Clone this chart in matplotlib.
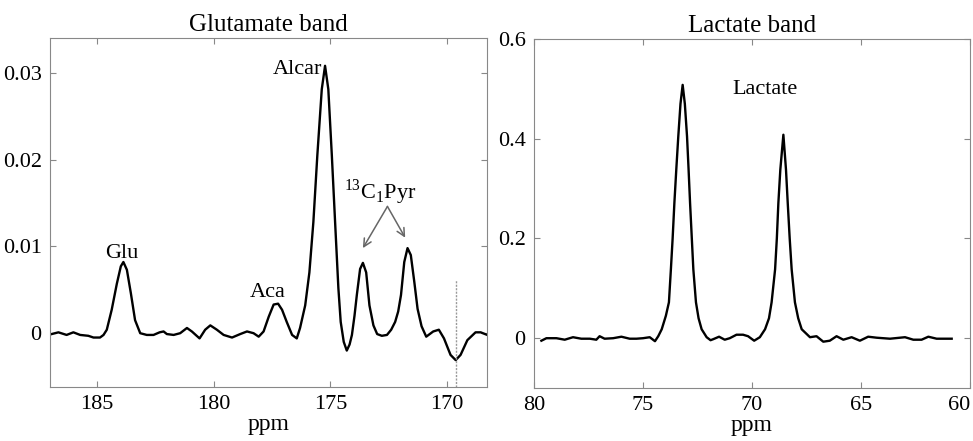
import matplotlib
matplotlib.use("Agg")
import matplotlib.pyplot as plt

plt.rcParams["font.family"] = ["Liberation Serif", "DejaVu Serif"]
plt.rcParams["mathtext.fontset"] = "custom"
plt.rcParams["mathtext.rm"] = "Liberation Serif"

# glutamate band spectrum (ppm, signal)
glu_ppm = [186.93, 186.64, 186.29, 186.0, 185.71, 185.36, 185.14, 184.86, 184.71, 184.57,
           184.36, 184.14, 183.97, 183.86, 183.71, 183.54, 183.36, 183.14, 182.86, 182.57,
           182.31, 182.14, 182.0, 181.71, 181.43, 181.14, 180.93, 180.6, 180.36, 180.14,
           179.86, 179.57, 179.21, 178.86, 178.57, 178.29, 178.07, 177.86, 177.64, 177.43,
           177.24, 177.07, 176.87, 176.64, 176.44, 176.30, 176.08, 175.9, 175.73, 175.56,
           175.37, 175.23, 175.09, 174.94, 174.80, 174.66, 174.56, 174.43, 174.30, 174.18,
           174.08, 173.97, 173.87, 173.73, 173.61, 173.47, 173.33, 173.16, 173.0, 172.8,
           172.58, 172.4, 172.23, 172.1, 171.98, 171.84, 171.70, 171.56, 171.41, 171.27,
           171.1, 170.9, 170.6, 170.36, 170.14, 169.86, 169.64, 169.43, 169.14, 168.79,
           168.57, 168.29]
glu_val = [-0.0001, 0.0001, -0.0002, 0.0001, -0.0002, -0.0003, -0.0005, -0.0005, -0.0002, 0.0004,
           0.0027, 0.0057, 0.0077, 0.0082, 0.0073, 0.0046, 0.0015, 0.0, -0.0002, -0.0002,
           0.0001, 0.0002, -0.0001, -0.0002, 0.0, 0.0006, 0.0002, -0.0006, 0.0004, 0.0009,
           0.0004, -0.0002, -0.0005, -0.0001, 0.0002, 0.0, -0.0004, 0.0002, 0.0019, 0.0033,
           0.0034, 0.0027, 0.0013, -0.0002, -0.0006, 0.0006, 0.0032, 0.0070, 0.0128, 0.0205,
           0.0281, 0.0308, 0.0281, 0.0205, 0.0128, 0.0052, 0.0013, -0.0010, -0.0020, -0.0013,
           -0.0002, 0.0020, 0.0044, 0.0074, 0.0081, 0.0070, 0.0032, 0.0009, -0.0001, -0.0003,
           -0.0002, 0.0004, 0.0013, 0.0025, 0.0044, 0.0082, 0.0098, 0.0090, 0.0059, 0.0028,
           0.0008, -0.0004, 0.0002, 0.0004, -0.0006, -0.0025, -0.0031, -0.0025, -0.0008, 0.0001,
           0.0001, -0.0002]

# lactate band spectrum
lac_ppm = [79.66, 79.43, 78.97, 78.59, 78.21, 77.83, 77.44, 77.14, 76.99, 76.76,
           76.37, 75.99, 75.61, 75.3, 75.0, 74.69, 74.45, 74.3, 74.14, 73.95,
           73.81, 73.72, 73.64, 73.56, 73.47, 73.38, 73.28, 73.18, 73.08, 72.98,
           72.91, 72.84, 72.76, 72.69, 72.57, 72.45, 72.31, 72.08, 71.9, 71.78,
           71.51, 71.25, 71.02, 70.71, 70.41, 70.18, 69.9, 69.64, 69.40, 69.22,
           69.10, 68.94, 68.86, 68.79, 68.70, 68.56, 68.44, 68.36, 68.27, 68.18,
           68.03, 67.88, 67.72, 67.34, 67.04, 66.73, 66.43, 66.12, 65.81, 65.43,
           65.05, 64.67, 64.28, 63.67, 62.98, 62.6, 62.22, 61.91, 61.53, 60.84]
lac_val = [-0.005, 0.0, 0.0, -0.003, 0.002, -0.001, -0.001, -0.003, 0.004, -0.001,
           0.0, 0.003, -0.001, -0.001, 0.0, 0.002, -0.006, 0.004, 0.018, 0.045,
           0.072, 0.138, 0.20, 0.271, 0.34, 0.405, 0.47, 0.508, 0.47, 0.405,
           0.34, 0.271, 0.20, 0.138, 0.072, 0.04, 0.018, 0.002, -0.004, -0.002,
           0.003, -0.003, 0.0, 0.007, 0.007, 0.004, -0.005, 0.002, 0.018, 0.04,
           0.072, 0.138, 0.20, 0.271, 0.338, 0.408, 0.338, 0.271, 0.20, 0.138,
           0.072, 0.04, 0.018, 0.002, 0.004, -0.007, -0.005, 0.004, -0.003, 0.002,
           -0.005, 0.003, 0.001, -0.001, 0.002, -0.003, -0.003, 0.003, -0.001, -0.001]

fig = plt.figure(figsize=(9.73, 4.41), dpi=100)
ax1 = fig.add_axes([0.0514, 0.1224, 0.4491, 0.7914])
ax2 = fig.add_axes([0.5488, 0.120, 0.4481, 0.7916])

for ax in (ax1, ax2):
    ax.tick_params(direction="in", top=True, right=True, labelsize=16, length=4,
                   color="#888888", pad=6)
    for s in ax.spines.values():
        s.set_color("#888888")
    ax.set_xlabel("ppm", fontsize=17, labelpad=0)

# left panel
ax1.plot(glu_ppm, glu_val, color="black", lw=1.7)
ax1.set_xlim(187.0, 168.3)
ax1.set_ylim(-0.0062, 0.034)
ax1.set_xticks([185, 180, 175, 170])
ax1.set_yticks([0, 0.01, 0.02, 0.03])
ax1.set_yticklabels(["0", "0.01", "0.02", "0.03"])
ax1.set_title("Glutamate band", fontsize=18, pad=5)
ax1.plot([169.64, 169.64], [-0.0062, 0.0061], color="#999999", lw=1, ls=(0, (1.5, 1)))

ax1.text(183.93, 0.0087, "Glu", fontsize=16, ha="center", va="baseline")
ax1.text(177.7, 0.0042, "Aca", fontsize=16, ha="center", va="baseline")
ax1.text(175.37, 0.0298, "Alcar", fontsize=16, ha="right", va="baseline")
ax1.text(172.87, 0.0155, r"$^{13}$C$_1$Pyr", fontsize=16, ha="center", va="baseline")
for tx, ty in [(173.61, 0.0098), (171.8, 0.0110)]:
    ax1.annotate("", xy=(tx, ty), xytext=(172.56, 0.0146),
                 arrowprops=dict(arrowstyle="->", color="#666666", lw=1.1,
                                 mutation_scale=14, shrinkA=0, shrinkB=0))

# right panel
ax2.plot(lac_ppm, lac_val, color="black", lw=1.7)
ax2.set_xlim(80, 60)
ax2.set_ylim(-0.1, 0.6)
ax2.set_xticks([80, 75, 70, 65, 60])
ax2.set_yticks([0, 0.2, 0.4, 0.6])
ax2.set_yticklabels(["0", "0.2", "0.4", "0.6"])
ax2.get_xticklabels()[-1].set_ha("right")
ax2.set_title("Lactate band", fontsize=18, pad=5)
ax2.text(69.4, 0.498, "Lactate", fontsize=16, ha="center", va="center")

fig.savefig("out.png", dpi=100)
